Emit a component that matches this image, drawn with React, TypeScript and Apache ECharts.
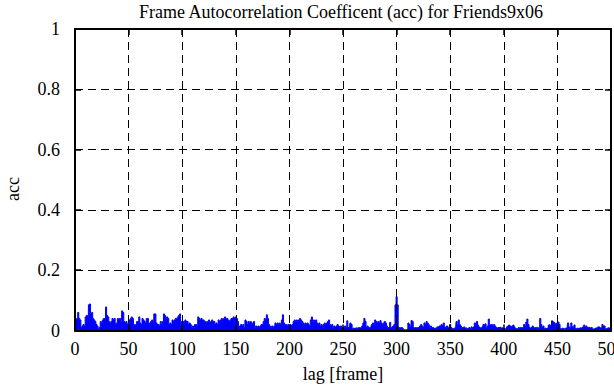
import React, { useEffect, useRef } from "react";
import * as echarts from "echarts";

const TITLE = "Frame Autocorrelation Coefficent (acc) for Friends9x06";
const X_NAME = "lag [frame]";
const Y_NAME = "acc";

// acc value for each lag 0..500
const accValues: number[] = [
  0.03, 0.035, 0.04, 0.06, 0.04, 0.035, 0.01, 0.015, 0.02, 0.015,
  0.045, 0.05, 0.05, 0.085, 0.088, 0.055, 0.06, 0.04, 0.035, 0.03,
  0.02, 0.015, 0.005, 0.01, 0.03, 0.025, 0.035, 0.04, 0.04, 0.078,
  0.05, 0.045, 0.03, 0.025, 0.03, 0.04, 0.035, 0.04, 0.02, 0.025,
  0.04, 0.035, 0.04, 0.03, 0.065, 0.06, 0.03, 0.025, 0.03, 0.02,
  0.025, 0.035, 0.04, 0.045, 0.04, 0.02, 0.015, 0.02, 0.03, 0.03,
  0.045, 0.025, 0.02, 0.04, 0.035, 0.03, 0.025, 0.04, 0.04, 0.02,
  0.025, 0.03, 0.035, 0.03, 0.055, 0.055, 0.025, 0.02, 0.02, 0.015,
  0.03, 0.02, 0.03, 0.055, 0.05, 0.04, 0.045, 0.04, 0.02, 0.025,
  0.02, 0.035, 0.03, 0.035, 0.04, 0.04, 0.045, 0.05, 0.055, 0.03,
  0.03, 0.03, 0.03, 0.035, 0.03, 0.03, 0.02, 0.025, 0.02, 0.01,
  0.015, 0.01, 0.02, 0.02, 0.015, 0.045, 0.04, 0.035, 0.04, 0.035,
  0.035, 0.03, 0.03, 0.025, 0.03, 0.035, 0.025, 0.03, 0.035, 0.03,
  0.03, 0.02, 0.025, 0.02, 0.035, 0.03, 0.035, 0.04, 0.035, 0.04,
  0.045, 0.04, 0.04, 0.035, 0.03, 0.035, 0.04, 0.04, 0.045, 0.04,
  0.045, 0.04, 0.03, 0.01, 0.015, 0.02, 0.015, 0.02, 0.01, 0.035,
  0.03, 0.02, 0.03, 0.025, 0.03, 0.02, 0.025, 0.03, 0.01, 0.015,
  0.01, 0.015, 0.01, 0.015, 0.02, 0.02, 0.03, 0.04, 0.035, 0.052,
  0.04, 0.02, 0.015, 0.01, 0.015, 0.01, 0.015, 0.025, 0.02, 0.025,
  0.02, 0.025, 0.02, 0.035, 0.052, 0.025, 0.02, 0.02, 0.015, 0.02,
  0.015, 0.02, 0.015, 0.02, 0.03, 0.035, 0.03, 0.035, 0.03, 0.035,
  0.04, 0.035, 0.03, 0.025, 0.02, 0.025, 0.02, 0.025, 0.02, 0.015,
  0.035, 0.045, 0.03, 0.035, 0.03, 0.035, 0.025, 0.02, 0.025, 0.015,
  0.02, 0.015, 0.02, 0.025, 0.02, 0.025, 0.03, 0.035, 0.02, 0.015,
  0.02, 0.01, 0.015, 0.01, 0.015, 0.02, 0.015, 0.01, 0.015, 0.01,
  0.01, 0.01, 0.015, 0.01, 0.032, 0.01, 0.012, 0.025, 0.02, 0.005,
  0.008, 0.005, 0.008, 0.01, 0.005, 0.01, 0.008, 0.01, 0.015, 0.025,
  0.04, 0.03, 0.01, 0.015, 0.01, 0.01, 0.012, 0.02, 0.025, 0.02,
  0.035, 0.03, 0.025, 0.03, 0.025, 0.033, 0.025, 0.02, 0.025, 0.03,
  0.025, 0.015, 0.01, 0.01, 0.027, 0.01, 0.012, 0.015, 0.02, 0.085,
  0.112, 0.085, 0.01, 0.01, 0.008, 0.01, 0.006, 0.003, 0.002, 0.003,
  0.004, 0.025, 0.02, 0.012, 0.033, 0.03, 0.01, 0.008, 0.01, 0.005,
  0.01, 0.008, 0.015, 0.02, 0.015, 0.01, 0.025, 0.02, 0.03, 0.025,
  0.02, 0.01, 0.015, 0.01, 0.01, 0.005, 0.008, 0.005, 0.012, 0.01,
  0.015, 0.015, 0.02, 0.015, 0.025, 0.012, 0.008, 0.015, 0.01, 0.012,
  0.02, 0.01, 0.008, 0.005, 0.008, 0.006, 0.03, 0.018, 0.035, 0.02,
  0.015, 0.01, 0.008, 0.012, 0.008, 0.01, 0.006, 0.008, 0.01, 0.005,
  0.012, 0.01, 0.012, 0.025, 0.015, 0.03, 0.018, 0.012, 0.01, 0.008,
  0.012, 0.02, 0.018, 0.022, 0.008, 0.015, 0.038, 0.02, 0.018, 0.02,
  0.015, 0.02, 0.015, 0.01, 0.008, 0.01, 0.01, 0.012, 0.008, 0.01,
  0.006, 0.008, 0.005, 0.012, 0.015, 0.018, 0.015, 0.012, 0.015, 0.018,
  0.012, 0.006, 0.008, 0.005, 0.01, 0.008, 0.01, 0.008, 0.01, 0.02,
  0.015, 0.028, 0.038, 0.02, 0.01, 0.008, 0.01, 0.015, 0.01, 0.008,
  0.01, 0.012, 0.006, 0.01, 0.04, 0.02, 0.01, 0.015, 0.005, 0.008,
  0.006, 0.008, 0.018, 0.02, 0.015, 0.032, 0.03, 0.027, 0.02, 0.024,
  0.025, 0.028, 0.02, 0.006, 0.005, 0.008, 0.006, 0.005, 0.008, 0.01,
  0.025, 0.012, 0.008, 0.025, 0.012, 0.01, 0.018, 0.006, 0.005, 0.008,
  0.005, 0.008, 0.01, 0.008, 0.012, 0.018, 0.012, 0.015, 0.01, 0.012,
  0.01, 0.008, 0.01, 0.005, 0.006, 0.005, 0.008, 0.01, 0.012, 0.012,
  0.01, 0.008, 0.02, 0.015, 0.015, 0.006, 0.005, 0.008, 0.01, 0.008,
  0.01,
];

const X_MIN = 0;
const X_MAX = 500;
const X_STEP = 50;
const Y_MIN = 0;
const Y_MAX = 1;
const Y_STEP = 0.2;

const FONT = "'Liberation Serif', 'DejaVu Serif', serif";

export default function App() {
  const ref = useRef<HTMLDivElement>(null);

  useEffect(() => {
    document.body.style.margin = "0";
    if (!ref.current) return;
    const chart = echarts.init(ref.current, undefined, { renderer: "svg" });

    const data = accValues.map((v, i) => [i, v]);
    const axisLine = { show: true, onZero: false, lineStyle: { color: "#000", width: 2 } };
    const axisTick = { show: true, inside: true, length: 6, lineStyle: { color: "#000", width: 1.5 } };
    const split = { show: true, lineStyle: { color: "#000", width: 1, type: [8, 5] as any } };
    const label = { color: "#000", fontFamily: FONT, fontSize: 18 };

    chart.setOption({
      animation: false,
      backgroundColor: "#fff",
      grid: {
        left: 75,
        right: 3,
        top: 29,
        bottom: 54.5,
        containLabel: false,
        outerBoundsMode: "none",
      },
      graphic: [
        {
          type: "text",
          x: 341,
          y: 12,
          style: { text: TITLE, fill: "#000", font: `18px ${FONT}`, align: "center", verticalAlign: "middle" },
        },
        {
          type: "text",
          x: 13,
          y: 189,
          rotation: Math.PI / 2,
          style: { text: Y_NAME, fill: "#000", font: `18px ${FONT}`, align: "center", verticalAlign: "middle" },
        },
      ],
      xAxis: [
        {
          type: "value",
          position: "bottom",
          min: X_MIN,
          max: X_MAX,
          interval: X_STEP,
          z: 3,
          axisLine,
          axisTick,
          splitLine: split,
          axisLabel: { ...label, margin: 9, showMaxLabel: true, showMinLabel: true, hideOverlap: false },
          name: X_NAME,
          nameLocation: "middle",
          nameGap: 34,
          nameTextStyle: { ...label },
        },
        {
          type: "value",
          position: "top",
          min: X_MIN,
          max: X_MAX,
          interval: X_STEP,
          z: 3,
          axisLine,
          axisTick,
          splitLine: { show: false },
          axisLabel: { show: false },
        },
      ],
      yAxis: [
        {
          type: "value",
          position: "left",
          min: Y_MIN,
          max: Y_MAX,
          interval: Y_STEP,
          z: 3,
          axisLine,
          axisTick,
          splitLine: split,
          axisLabel: { ...label, margin: 15 },
        },
        {
          type: "value",
          position: "right",
          min: Y_MIN,
          max: Y_MAX,
          interval: Y_STEP,
          z: 3,
          axisLine,
          axisTick,
          splitLine: { show: false },
          axisLabel: { show: false },
        },
      ],
      series: [
        {
          type: "line",
          xAxisIndex: 0,
          yAxisIndex: 0,
          step: "middle",
          symbol: "none",
          z: 2,
          lineStyle: { color: "#0000ff", width: 1 },
          areaStyle: { color: "#0000ff", opacity: 1 },
          data,
        },
      ],
    });

    return () => chart.dispose();
  }, []);

  return <div ref={ref} style={{ width: 614, height: 385 }} />;
}
